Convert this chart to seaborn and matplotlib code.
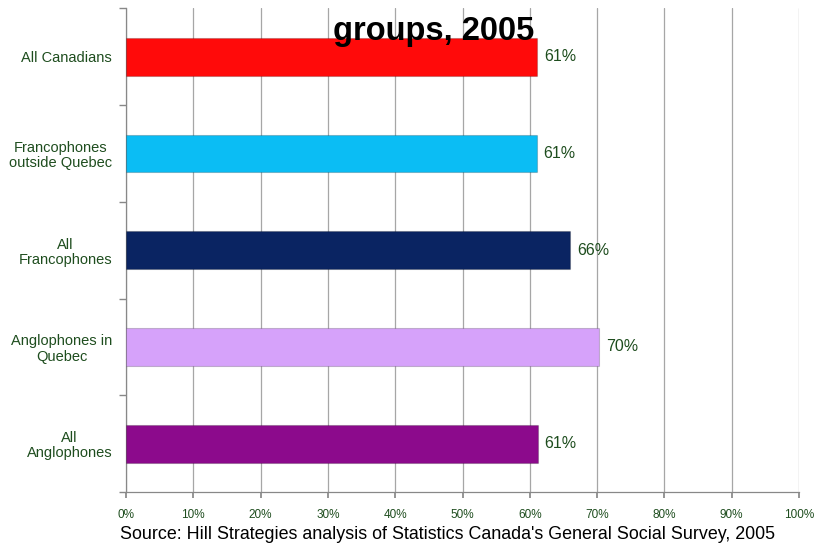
import matplotlib
matplotlib.use('Agg')
import matplotlib.pyplot as plt
import seaborn as sns
import pandas as pd

# -- data --
CATEGORIES = ['All Canadians', 'Francophones\noutside Quebec', 'All\nFrancophones',
              'Anglophones in\nQuebec', 'All\nAnglophones']
VALUES = [61.1, 61.0, 66.0, 70.3, 61.2]
LABELS = ['61%', '61%', '66%', '70%', '61%']
COLORS = ['#FF0A0A', '#0BBDF4', '#0A2462', '#D6A2FA', '#8C0A8C']
X_TICKS = list(range(0, 101, 10))

TEXT_GREEN = '#1E4D1E'

df = pd.DataFrame({'group': CATEGORIES, 'pct': VALUES})

sns.set_theme(style='white')
plt.rcParams['font.family'] = ['Liberation Sans', 'DejaVu Sans']

fig = plt.figure(figsize=(8.15, 5.47), dpi=100)
ax = fig.add_axes([0.1546, 0.1005, 0.8258, 0.884])

sns.barplot(data=df, x='pct', y='group', hue='group', palette=COLORS,
            orient='h', width=0.39, legend=False, ax=ax, saturation=1,
            edgecolor='#00000030', linewidth=0.8, zorder=3)

ax.set_xlim(0, 100)
ax.set_ylim(4.5, -0.5)
ax.set_xticks(X_TICKS)
ax.set_xticklabels([f'{t}%' for t in X_TICKS], fontsize=8.5, color=TEXT_GREEN)
ax.set_yticks(range(len(CATEGORIES)))
ax.set_yticklabels(CATEGORIES, fontsize=10.5, color=TEXT_GREEN, linespacing=1.1)
for lab in ax.get_yticklabels():
    lab.set_multialignment('center')
ax.set_yticks([i - 0.5 for i in range(len(CATEGORIES) + 1)], minor=True)
ax.tick_params(axis='y', which='major', length=0, pad=10)
ax.tick_params(axis='y', which='minor', length=5, color='#888888', direction='out', left=True)
ax.tick_params(axis='x', length=4, color='#888888', direction='out', bottom=True, pad=8)
ax.set_xlabel('')
ax.set_ylabel('')

ax.grid(axis='x', color='#A6A6A6', linewidth=0.9, zorder=0)
for s in ['top', 'right']:
    ax.spines[s].set_visible(False)
for s in ['left', 'bottom']:
    ax.spines[s].set_color('#888888')
    ax.spines[s].set_linewidth(0.9)

for i, (v, lab) in enumerate(zip(VALUES, LABELS)):
    ax.text(v + 1.0, i, lab, va='center', ha='left', fontsize=11.5, color=TEXT_GREEN)

fig.text(0.532, 0.943, 'groups, 2005', ha='center', va='center',
         fontsize=23.5, fontweight='bold', color='black')
fig.text(0.549, 0.022, "Source: Hill Strategies analysis of Statistics Canada's General Social Survey, 2005",
         ha='center', va='center', fontsize=12.9, color='black')

fig.savefig('out.png', dpi=100)
